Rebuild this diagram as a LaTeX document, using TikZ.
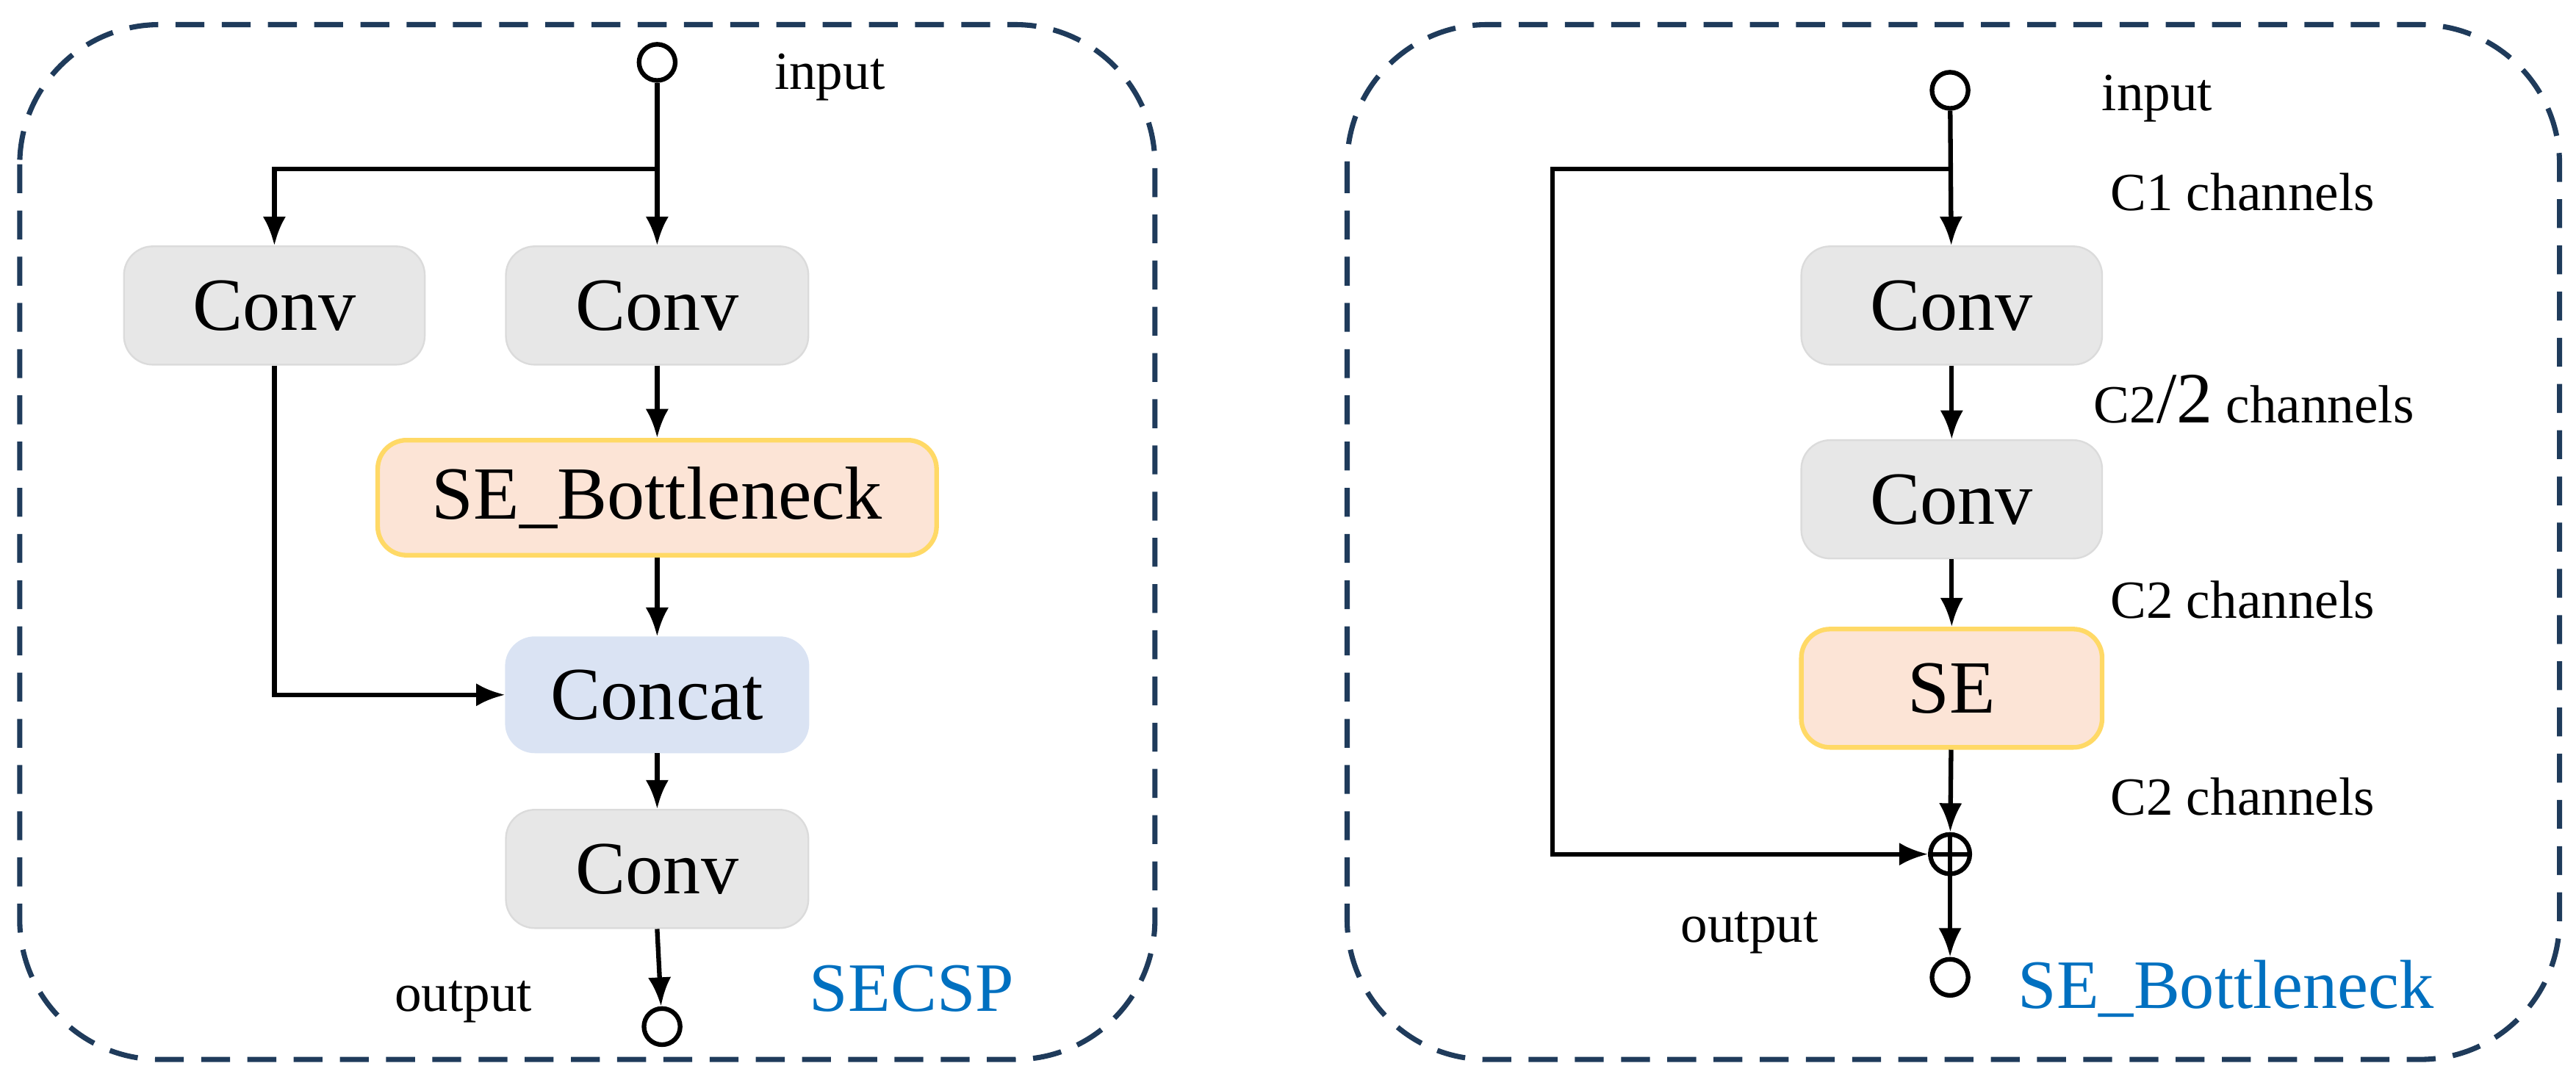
\documentclass[tikz,border=0pt]{standalone}
\usepackage{fontspec}
\setmainfont{Liberation Serif}
\usetikzlibrary{arrows.meta}
\definecolor{gbox}{HTML}{E7E7E7}
\definecolor{obox}{HTML}{FCE4D6}
\definecolor{oedge}{HTML}{FFD966}
\definecolor{bbox}{HTML}{DAE3F3}
\definecolor{frame}{HTML}{1F3B5B}
\definecolor{lblue}{HTML}{0070C0}
\begin{document}
\begin{tikzpicture}[x=0.01cm,y=-0.01cm,
  blk/.style={rounded corners=5pt,fill=gbox,draw=gbox!95!black,line width=0.3pt,font=\fontsize{13}{14}\selectfont},
  arr/.style={-{Latex[length=5pt,width=4pt]},line width=0.8pt},
  ln/.style={line width=0.8pt},
  io/.style={circle,draw,line width=0.8pt,minimum size=0.22cm,inner sep=0pt},
  lab/.style={font=\fontsize{9.3}{10}\selectfont},
  frm/.style={draw=frame,dashed,line width=0.9pt,rounded corners=0.85cm,dash pattern=on 5pt off 3pt}]
\useasboundingbox (0,0) rectangle (1568,662);
\draw[frm] (12,15) rectangle (703,645);
\draw[frm] (820,15) rectangle (1558,645);
% left
\node[io] (in1) at (400,38) {};
\node[lab] (tin1) at (505,47) {input};
\node[blk,minimum width=1.83cm,minimum height=0.72cm] (c1) at (167,186) {Conv};
\node[blk,minimum width=1.84cm,minimum height=0.72cm] (c2) at (400,186) {Conv};
\node[blk,fill=obox,draw=oedge,line width=0.8pt,minimum width=3.4cm,minimum height=0.7cm] (seb) at (400,303) {SE\_Bottleneck};
\node[blk,fill=bbox,draw=bbox,minimum width=1.84cm,minimum height=0.7cm] (cat) at (400,423) {Concat};
\node[blk,minimum width=1.84cm,minimum height=0.72cm] (c3) at (400,529) {Conv};
\node[io] (out1) at (403,625) {};
\node[lab] (tout1) at (282,610) {output};
\node[text=lblue,font=\fontsize{12}{13}\selectfont] (t1) at (555,602) {SECSP};
\coordinate (b1) at (400,103);
\draw[arr] (in1) -- (c2);
\draw[arr] (b1) -| (c1.north);
\draw[arr] (c2) -- (seb);
\draw[arr] (seb) -- (cat);
\draw[arr] (c1.south) |- (cat.west);
\draw[arr] (cat) -- (c3);
\draw[arr] (c3.south) -- (out1);
% right
\node[io] (in2) at (1187,55) {};
\node[lab] (tin2) at (1313,60) {input};
\node[lab] (l1) at (1365,117) {C1 channels};
\node[blk,minimum width=1.83cm,minimum height=0.72cm] (d1) at (1188,186) {Conv};
\node[lab] (l2) at (1372,243) {C2{\fontsize{12.5}{12}\selectfont/2} channels};
\node[blk,minimum width=1.83cm,minimum height=0.72cm] (d2) at (1188,304) {Conv};
\node[lab] (l3) at (1365,365) {C2 channels};
\node[blk,fill=obox,draw=oedge,line width=0.8pt,minimum width=1.83cm,minimum height=0.72cm] (se) at (1188,419) {SE};
\node[lab] (l4) at (1365,485) {C2 channels};
\node[circle,draw,line width=0.8pt,minimum size=0.24cm,inner sep=0pt] (plus) at (1187,520) {};
\draw[ln] (plus.north)--(plus.south) (plus.west)--(plus.east);
\node[io] (out2) at (1187,595) {};
\node[lab] (tout2) at (1065,568) {output};
\node[text=lblue,font=\fontsize{12}{13}\selectfont] (t2) at (1355,602) {SE\_Bottleneck};
\coordinate (b2) at (1187,103);
\coordinate (b3) at (945,103);
\draw[arr] (in2) -- (d1);
\draw[arr] (d1) -- (d2);
\draw[arr] (d2) -- (se);
\draw[arr] (se) -- (plus);
\draw[arr] (b2) -- (b3) |- (plus.west);
\draw[arr] (plus) -- (out2);
\end{tikzpicture}
\end{document}
